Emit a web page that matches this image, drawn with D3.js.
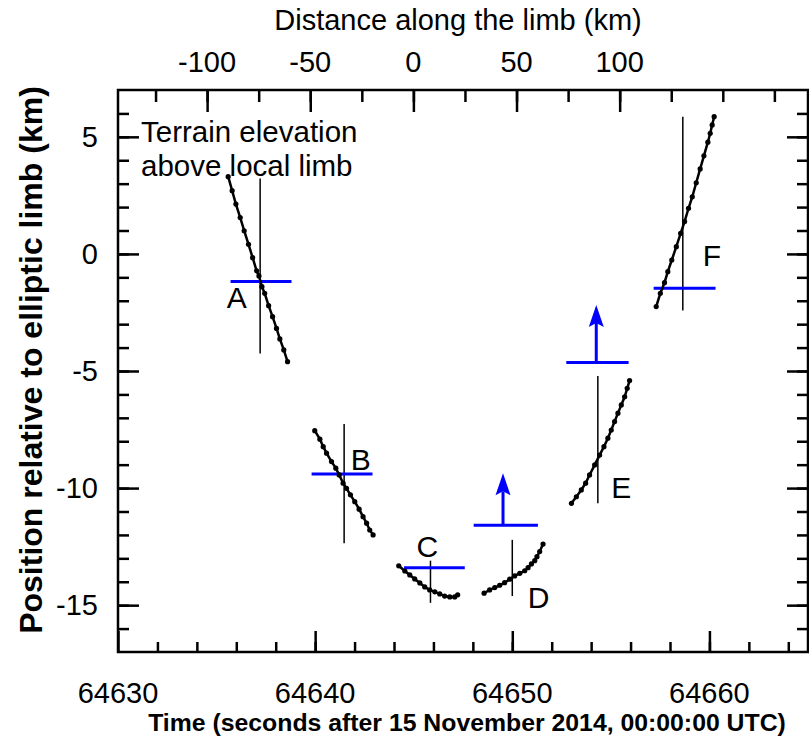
<!DOCTYPE html>
<html>
<head>
<meta charset="utf-8">
<script src="https://cdn.jsdelivr.net/npm/d3@7"></script>
<style>
  body { margin: 0; background: #fff; }
  svg { display: block; font-family: "Liberation Sans", Arial, sans-serif; }
</style>
</head>
<body>
<svg id="chart" width="809" height="749"></svg>
<script>
// time (s) vs position (km) for each chord
const curveA = [[64635.59,3.30],[64635.79,2.70],[64635.98,2.13],[64636.20,1.55],[64636.40,0.99],[64636.62,0.41],
  [64636.83,-0.16],[64637.03,-0.72],[64637.15,-0.94],[64637.30,-1.40],[64637.44,-1.68],[64637.64,-2.21],
  [64637.84,-2.68],[64638.04,-3.18],[64638.21,-3.63],[64638.41,-4.10],[64638.60,-4.60]];
const curveB = [[64639.98,-7.55],[64640.24,-7.91],[64640.41,-8.23],[64640.58,-8.51],[64640.83,-8.87],[64641.05,-9.15],
  [64641.22,-9.44],[64641.42,-9.79],[64641.59,-10.01],[64641.79,-10.29],[64642.01,-10.58],[64642.23,-10.90],
  [64642.43,-11.22],[64642.61,-11.50],[64642.77,-11.79],[64642.94,-12.00]];
const curveC = [[64644.24,-13.32],[64644.55,-13.54],[64644.80,-13.71],[64645.05,-13.88],[64645.31,-14.05],[64645.56,-14.22],
  [64645.81,-14.35],[64646.07,-14.43],[64646.32,-14.52],[64646.57,-14.61],[64646.83,-14.65],[64647.08,-14.65],[64647.23,-14.56]];
const curveD = [[64648.57,-14.49],[64648.85,-14.35],[64649.11,-14.25],[64649.36,-14.15],[64649.61,-14.04],[64649.87,-13.89],
  [64650.12,-13.75],[64650.38,-13.64],[64650.63,-13.53],[64650.80,-13.40],[64650.97,-13.24],[64651.14,-13.10],
  [64651.25,-12.93],[64651.39,-12.71],[64651.56,-12.39]];
const curveE = [[64653.00,-10.65],[64653.25,-10.37],[64653.50,-10.08],[64653.72,-9.79],[64653.92,-9.44],[64654.18,-9.01],
  [64654.43,-8.59],[64654.65,-8.23],[64654.85,-7.87],[64655.02,-7.52],[64655.19,-7.16],[64655.36,-6.80],
  [64655.53,-6.45],[64655.70,-6.10],[64655.83,-5.74],[64655.95,-5.41]];
const curveF = [[64657.30,-2.25],[64657.51,-1.68],[64657.72,-1.23],[64657.89,-0.76],[64658.09,-0.26],[64658.32,0.31],
  [64658.54,0.88],[64658.74,1.38],[64658.94,1.95],[64659.13,2.44],[64659.33,3.04],[64659.53,3.63],
  [64659.72,4.19],[64659.92,4.77],[64660.04,5.15],[64660.14,5.51],[64660.24,5.86]];

// thin vertical markers: [time, top, bottom]
const markers = [[64637.21,3.22,-4.25],[64641.47,-7.26,-12.36],[64645.85,-13.10,-14.90],
  [64650.00,-12.21,-14.61],[64654.34,-5.21,-10.65],[64658.65,5.86,-2.42]];
// blue levels: [t start, t end, position]
const levels = [[64635.71,64638.80,-1.18],[64639.82,64642.91,-9.40],[64644.51,64647.59,-13.40],
  [64648.04,64651.30,-11.59],[64652.74,64655.90,-4.64],[64657.17,64660.31,-1.47]];
// lower limits: [time, from, to]
const arrows = [[64649.53,-11.59,-9.37],[64654.26,-4.64,-2.18]];
const labelNames = ["A","B","C","D","E","F"];
const labelPos = [[64636.03,-2.31],[64642.32,-9.23],[64645.69,-12.94],[64651.33,-15.13],[64655.53,-10.43],[64660.13,-0.50]];

const xTicks = [64630, 64640, 64650, 64660];
const yTicks = [-15, -10, -5, 0, 5];
const kmTicks = [-100, -50, 0, 50, 100];

const svg = d3.select("#chart");
const mLeft = 118, mRight = 808, mTop = 90, mBottom = 652;

const x = d3.scaleLinear().domain([64630, 64665]).range([mLeft, mRight]);
const y = d3.scaleLinear().domain([-17, 7]).range([mBottom, mTop]);
const km = d3.scaleLinear().domain([-143.2, 191.3]).range([mLeft, mRight]);

const fontSize = 29;

// axes (ticks inward)
function styleAxis(g) {
    g.select(".domain").remove();
    g.selectAll("line").attr("stroke", "#000").attr("stroke-width", 2.5);
    g.selectAll("text").remove();
}

svg.append("g").attr("transform", `translate(0,${mBottom})`)
    .call(d3.axisTop(x).tickValues(d3.range(64632, 64665, 2)).tickSize(10)).call(styleAxis);
svg.append("g").attr("transform", `translate(0,${mBottom})`)
    .call(d3.axisTop(x).tickValues(xTicks).tickSize(21)).call(styleAxis);

svg.append("g").attr("transform", `translate(${mLeft},0)`)
    .call(d3.axisRight(y).tickValues(d3.range(-16, 7, 1)).tickSize(11)).call(styleAxis);
svg.append("g").attr("transform", `translate(${mLeft},0)`)
    .call(d3.axisRight(y).tickValues(yTicks).tickSize(21)).call(styleAxis);
svg.append("g").attr("transform", `translate(${mRight},0)`)
    .call(d3.axisLeft(y).tickValues(d3.range(-16, 7, 1)).tickSize(11)).call(styleAxis);
svg.append("g").attr("transform", `translate(${mRight},0)`)
    .call(d3.axisLeft(y).tickValues(yTicks).tickSize(21)).call(styleAxis);

svg.append("g").attr("transform", `translate(0,${mTop})`)
    .call(d3.axisBottom(km).tickValues(d3.range(-125, 191, 25)).tickSize(12)).call(styleAxis);
svg.append("g").attr("transform", `translate(0,${mTop})`)
    .call(d3.axisBottom(km).tickValues(kmTicks).tickSize(22)).call(styleAxis);

// frame
svg.append("rect")
    .attr("x", mLeft).attr("y", mTop)
    .attr("width", mRight - mLeft).attr("height", mBottom - mTop)
    .attr("fill", "none").attr("stroke", "#000").attr("stroke-width", 2.5);

// tick labels
svg.selectAll(".xlab").data(xTicks).enter().append("text")
    .attr("x", d => x(d)).attr("y", 703)
    .attr("text-anchor", "middle").attr("font-size", fontSize).text(d => d);

svg.selectAll(".ylab").data(yTicks).enter().append("text")
    .attr("x", 98).attr("y", d => y(d) + 10)
    .attr("text-anchor", "end").attr("font-size", fontSize).text(d => d);

svg.selectAll(".kmlab").data(kmTicks).enter().append("text")
    .attr("x", d => km(d)).attr("y", 72)
    .attr("text-anchor", "middle").attr("font-size", fontSize).text(d => d);

// axis titles
svg.append("text").attr("x", 458).attr("y", 30).attr("text-anchor", "middle")
    .attr("font-size", fontSize).text("Distance along the limb (km)");
svg.append("text").attr("x", 467).attr("y", 731).attr("text-anchor", "middle")
    .attr("font-size", 24.8).attr("font-weight", "bold")
    .text("Time (seconds after 15 November 2014, 00:00:00 UTC)");
svg.append("text").attr("transform", "translate(42,360) rotate(-90)").attr("text-anchor", "middle")
    .attr("font-size", 32).attr("font-weight", "bold")
    .text("Position relative to elliptic limb (km)");

svg.append("text").attr("x", 141).attr("y", 142).attr("font-size", 29.5).text("Terrain elevation");
svg.append("text").attr("x", 141).attr("y", 176).attr("font-size", 29.5).text("above local limb");

// vertical markers
svg.selectAll(".marker").data(markers).enter().append("line")
    .attr("x1", d => x(d[0])).attr("x2", d => x(d[0]))
    .attr("y1", d => y(d[1])).attr("y2", d => y(d[2]))
    .attr("stroke", "#000").attr("stroke-width", 1.5);

// blue levels
svg.selectAll(".level").data(levels).enter().append("line")
    .attr("x1", d => x(d[0])).attr("x2", d => x(d[1]))
    .attr("y1", d => y(d[2])).attr("y2", d => y(d[2]))
    .attr("stroke", "#0000ff").attr("stroke-width", 3);

// arrows
arrows.forEach(a => {
    const ax = x(a[0]), y0 = y(a[1]), y1 = y(a[2]);
    svg.append("line").attr("x1", ax).attr("x2", ax).attr("y1", y0).attr("y2", y1 + 18)
        .attr("stroke", "#0000ff").attr("stroke-width", 3);
    svg.append("path")
        .attr("d", `M${ax},${y1} L${ax - 7.5},${y1 + 22} L${ax},${y1 + 18} L${ax + 7.5},${y1 + 22} Z`)
        .attr("fill", "#0000ff");
});

// curves with dots
const line = d3.line().x(d => x(d[0])).y(d => y(d[1]));
[curveA, curveB, curveC, curveD, curveE, curveF].forEach(c => {
    svg.append("path").datum(c).attr("d", line)
        .attr("fill", "none").attr("stroke", "#000").attr("stroke-width", 2.5);
    svg.append("g").selectAll("circle").data(c).enter().append("circle")
        .attr("cx", d => x(d[0])).attr("cy", d => y(d[1])).attr("r", 2.6).attr("fill", "#000");
});

// chord labels
svg.selectAll(".chord").data(labelPos).enter().append("text")
    .attr("x", d => x(d[0])).attr("y", d => y(d[1]))
    .attr("text-anchor", "middle").attr("font-size", 30)
    .text((d, i) => labelNames[i]);
</script>
</body>
</html>
